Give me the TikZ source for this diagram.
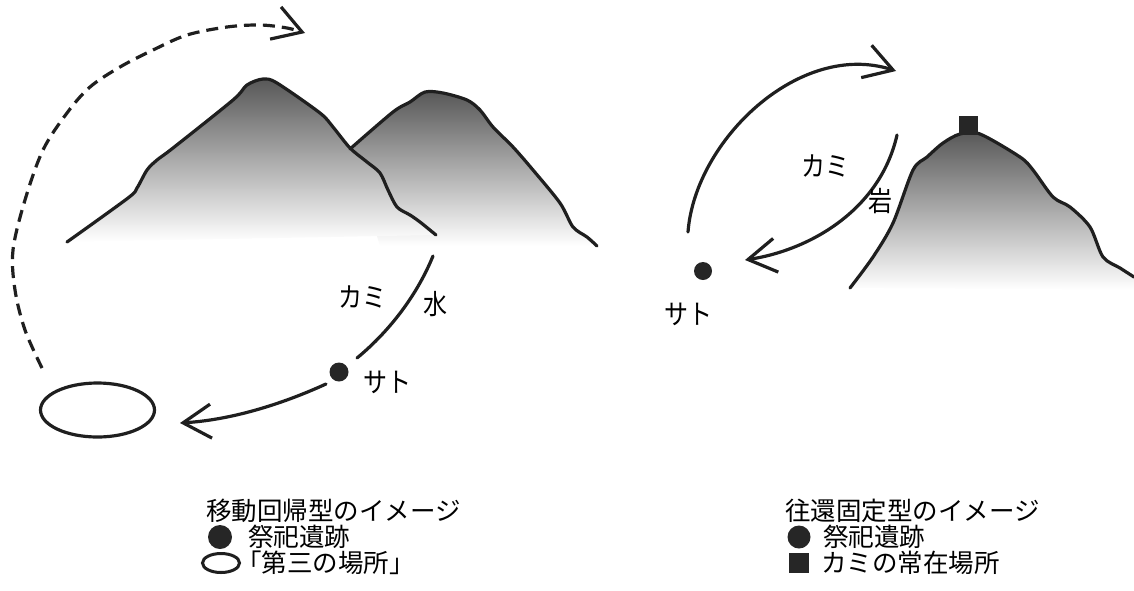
\documentclass[tikz,border=0pt]{standalone}
\usepackage{fontspec}
\usepackage{graphicx}
\setmainfont{Noto Sans CJK JP}
\usetikzlibrary{arrows.meta,shapes.geometric}
% short labels are set a little taller than wide
\newcommand{\tallset}[1]{\scalebox{1}[1.15]{#1}}
\begin{document}
\begin{tikzpicture}[x=1pt,y=-1pt,
  ink/.style={line width=3.2pt, line join=round, line cap=round, draw=black!88},
  hill/.style={top color=black!66, middle color=black!34, bottom color=white, shading angle=0},
  barbtip/.style={-{Straight Barb[length=28pt, width=34pt, line width=3.2pt]}},
  dashline/.style={ink, dash pattern=on 12pt off 7pt, line cap=butt},
  lbl/.style={font=\fontsize{24}{24}\selectfont, inner sep=0pt},
  legend/.style={font=\fontsize{25.5}{25.5}\selectfont, inner sep=0pt, anchor=west},
  site/.style={circle, fill=black!85, inner sep=0pt}]
\useasboundingbox (0,0) rectangle (1134,590);

% ---------- two hills (back one first) ----------
\shade[hill] plot[smooth, tension=0.5] coordinates {(350,149) (393,112) (410,102) (425,92) (443,93) (467,100) (480,110) (493,127) (513,147) (533,170) (560,203) (573,227) (587,237) (597,246)} -- (380,246) -- cycle;
\shade[hill] plot[smooth, tension=0.5] coordinates {(67,242) (128,198) (137,188) (147,170) (157,160) (173,148) (233,100) (247,85) (263,79) (277,83) (320,113) (333,127) (350,148) (367,162) (380,173) (388,190) (397,207) (410,215) (420,222) (436,235)} -- cycle;
\draw[ink] plot[smooth, tension=0.5] coordinates {(350,149) (393,112) (410,102) (425,92) (443,93) (467,100) (480,110) (493,127) (513,147) (533,170) (560,203) (573,227) (587,237) (597,246)};
\draw[ink] plot[smooth, tension=0.5] coordinates {(67,242) (128,198) (137,188) (147,170) (157,160) (173,148) (233,100) (247,85) (263,79) (277,83) (320,113) (333,127) (350,148) (367,162) (380,173) (388,190) (397,207) (410,215) (420,222) (436,235)};

% ---------- the "third place" and the return route ----------
\node[draw=black!88, line width=3.2pt, ellipse, minimum width=114pt, minimum height=54pt, inner sep=0pt] (third) at (97.5,410) {};
\draw[dashline, barbtip] plot[smooth, tension=0.55] coordinates {(42,368) (25,330) (15,290) (13,250) (25,200) (43,150) (67,113) (90,87) (120,67) (153,50) (187,35) (227,27) (260,25) (287,28) (305,33)};

% ---------- kami / water / sato ----------
\coordinate (wtop) at (433,256);
\coordinate (wend) at (357,358);
\coordinate (lstart) at (326,384);
\coordinate (ltip) at (180,423);
\draw[ink] (wtop) .. controls (415,300) and (385,335) .. (wend);
\draw[ink, barbtip] (lstart) .. controls (280,405) and (230,420) .. (ltip);
\node[site, minimum size=19pt] (satoL) at (339,372) {};
\node[lbl] (kamiL) at (362,297) {\tallset{カミ}};
\node[lbl] (mizu) at (435,304) {\tallset{水}};
\node[lbl] (satoLt) at (387,382) {\tallset{サト}};

% ---------- single peak with its rock ----------
\shade[hill] plot[smooth, tension=0.5] coordinates {(850,288) (873,257) (893,223) (913,170) (927,157) (943,143) (960,134) (980,134) (1020,157) (1033,170) (1053,197) (1070,207) (1090,227) (1103,257) (1120,268) (1134,277)} -- (1134,290) -- cycle;
\draw[ink] plot[smooth, tension=0.5] coordinates {(850,288) (873,257) (893,223) (913,170) (927,157) (943,143) (960,134) (980,134) (1020,157) (1033,170) (1053,197) (1070,207) (1090,227) (1103,257) (1120,268) (1134,277)};
\fill[black!85] (959,116) rectangle (978,135);

% ---------- round trip between sato and the rock ----------
\node[site, minimum size=18pt] (satoR) at (703,271) {};
\coordinate (ostart) at (688,232);
\coordinate (otip) at (896,71);
\coordinate (istart) at (897,135);
\coordinate (itip) at (745,260);
\draw[ink, barbtip] (ostart) .. controls (695,140) and (800,40) .. (otip);
\draw[ink, barbtip] (istart) .. controls (880,210) and (810,250) .. (itip);
\node[lbl] (kamiR) at (825,166) {\tallset{カミ}};
\node[lbl] (iwa) at (880,201) {\tallset{岩}};
\node[lbl] (satoRt) at (688,314) {\tallset{サト}};

% ---------- legends ----------
\node[legend] (legL) at (206,511) {移動回帰型のイメージ};
\node[site, minimum size=24pt] (legLdot) at (220,537) {};
\node[legend] (legLdott) at (248,537) {祭祀遺跡};
\node[draw=black!88, line width=3pt, ellipse, minimum width=37pt, minimum height=19pt, inner sep=0pt] (legLell) at (221,563) {};
\node[legend] (legLellt) at (236,563) {「第三の場所」};

\node[legend] (legR) at (785,511) {往還固定型のイメージ};
\node[site, minimum size=23pt] (legRdot) at (799,537) {};
\node[legend] (legRdott) at (823,537) {祭祀遺跡};
\node[fill=black!85, minimum size=20pt, inner sep=0pt] (legRsq) at (799,563) {};
\node[legend] (legRsqt) at (821,563) {カミの常在場所};
\end{tikzpicture}
\end{document}
